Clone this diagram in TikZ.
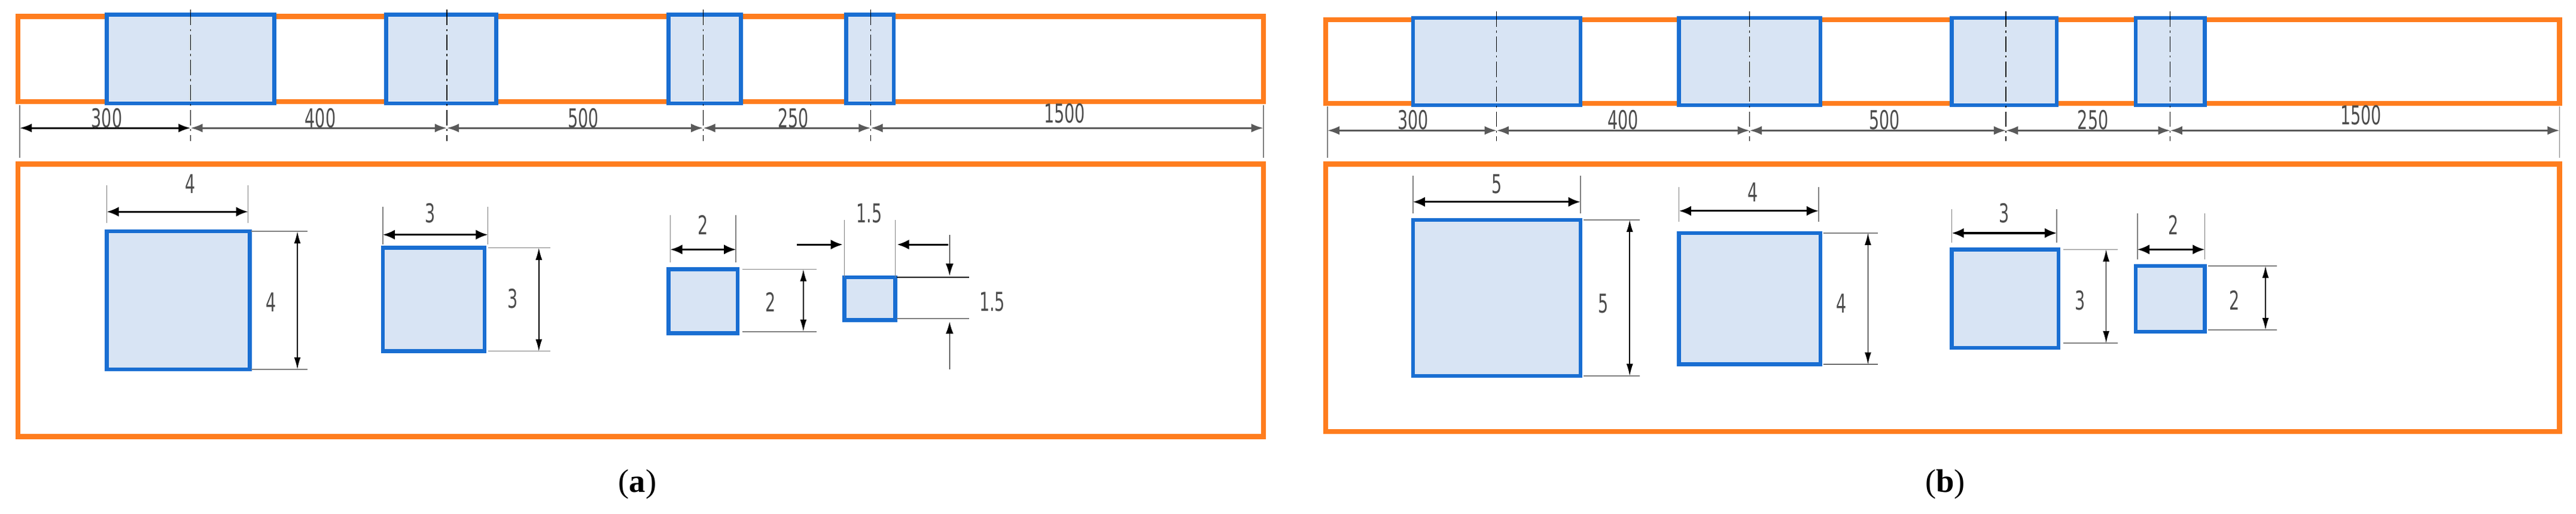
\documentclass[tikz,border=0pt]{standalone}
\usepackage{fontspec}
\setmainfont{Liberation Serif}
\setsansfont{DejaVu Sans}
\usetikzlibrary{arrows.meta}
\definecolor{org}{RGB}{255,125,30}
\definecolor{blu}{RGB}{25,110,210}
\definecolor{fil}{RGB}{216,228,244}
\tikzset{
 orangebox/.style={draw=org,line width=2.6pt},
 bluebox/.style={draw=blu,fill=fil,line width=2pt},
 centerline/.style={black,line width=0.4pt,dash pattern=on 8pt off 2pt on 1pt off 2pt},
 extline/.style={gray,line width=0.5pt},
 dimline/.style={gray!70!black,line width=0.9pt,{Latex[length=2.2mm,width=1.6mm]}-{Latex[length=2.2mm,width=1.6mm]}},
 vdim/.style={black,line width=0.5pt,{Latex[length=2.2mm,width=1.2mm]}-{Latex[length=2.2mm,width=1.2mm]}},
 hdim/.style={black,line width=1pt,{Latex[length=2.2mm,width=1.8mm]}-{Latex[length=2.2mm,width=1.8mm]}},
 onearrow/.style={black,line width=0.5pt,-{Latex[length=2.2mm,width=1.4mm]}},
 onearrowh/.style={black,line width=1pt,-{Latex[length=2.2mm,width=1.8mm]}},
 dimlabel/.style={text=gray!60!black,font=\sffamily\fontsize{13.5}{13.5}\selectfont,xscale=0.62,inner sep=0pt},
 caption/.style={font=\fontsize{17}{19}\selectfont,inner sep=0pt}
}
\begin{document}
\begin{tikzpicture}[x=0.03cm,y=-0.03cm]
\useasboundingbox (0,0) rectangle (1568,313);
% ---------- panel (a) ----------
\draw[orangebox] (11,10) rectangle (769,62);
\foreach \a/\b in {65/167,235/302,407/451,515/544}
  \draw[bluebox] (\a,9) rectangle (\b,63);
\foreach \c in {116,272,428,530}
  \draw[centerline] (\c,6) -- (\c,86);
\draw[extline] (12,64) -- (12,96);
\draw[extline] (769,64) -- (769,96);
\coordinate (a0) at (12,78);
\coordinate (a1) at (116,78);
\coordinate (a2) at (272,78);
\coordinate (a3) at (428,78);
\coordinate (a4) at (530,78);
\coordinate (a5) at (769,78);
\draw[dimline,black] (a0) -- (a1);
\draw[dimline] (a1) -- (a2);
\draw[dimline] (a2) -- (a3);
\draw[dimline] (a3) -- (a4);
\draw[dimline] (a4) -- (a5);
\node[dimlabel] (la1) at (65,72) {300};
\node[dimlabel] (la2) at (195,72) {400};
\node[dimlabel] (la3) at (355,72) {500};
\node[dimlabel] (la4) at (483,72) {250};
\node[dimlabel] (la5) at (648,69) {1500};
\draw[orangebox] (11,100) rectangle (769,266);
% square 1
\draw[bluebox] (65,141) rectangle (152,225);
\draw[extline] (65,113) -- (65,136);
\draw[extline] (151,113) -- (151,136);
\draw[hdim] (65,129) -- (151,129);
\node[dimlabel] at (116,112) {4};
\draw[extline] (153,141) -- (187,141);
\draw[extline] (153,225) -- (187,225);
\draw[vdim] (181,141) -- (181,225);
\node[dimlabel] at (165,184) {4};
% square 2
\draw[bluebox] (233,151) rectangle (295,214);
\draw[extline] (233,126) -- (233,149);
\draw[extline] (297,126) -- (297,149);
\draw[hdim] (233,143) -- (297,143);
\node[dimlabel] at (262,130) {3};
\draw[extline] (297,151) -- (335,151);
\draw[extline] (297,214) -- (335,214);
\draw[vdim] (328,151) -- (328,214);
\node[dimlabel] at (312,182) {3};
% square 3
\draw[bluebox] (407,164) rectangle (449,203);
\draw[extline] (408,131) -- (408,160);
\draw[extline] (448,131) -- (448,160);
\draw[hdim] (408,152) -- (448,152);
\node[dimlabel] at (428,137) {2};
\draw[extline] (452,164) -- (497,164);
\draw[extline] (452,202) -- (497,202);
\draw[vdim] (489,164) -- (489,202);
\node[dimlabel] at (469,184) {2};
% square 4
\draw[bluebox] (514,169) rectangle (545,195);
\draw[extline] (514,134) -- (514,169);
\draw[extline] (545,134) -- (545,169);
\draw[onearrowh] (485,149) -- (513,149);
\draw[onearrowh] (577,149) -- (546,149);
\node[dimlabel] at (529,130) {1.5};
\draw[extline,black] (546,169) -- (590,169);
\draw[extline] (546,194) -- (590,194);
\draw[onearrow] (578,143) -- (578,168);
\draw[onearrow] (578,225) -- (578,196);
\node[dimlabel] at (604,184) {1.5};
\node[caption] (capa) at (388,295) {(\textbf{a})};
% ---------- panel (b) ----------
\draw[orangebox] (807,12) rectangle (1558,63);
\foreach \a/\b in {860/962,1022/1108,1188/1252,1300/1342}
  \draw[bluebox] (\a,11) rectangle (\b,64);
\foreach \c in {911,1065,1221,1321}
  \draw[centerline] (\c,7) -- (\c,86);
\draw[extline] (808,65) -- (808,96);
\draw[extline] (1558,65) -- (1558,96);
\coordinate (b0) at (808,79.5);
\coordinate (b1) at (911,79.5);
\coordinate (b2) at (1065,79.5);
\coordinate (b3) at (1221,79.5);
\coordinate (b4) at (1321,79.5);
\coordinate (b5) at (1558,79.5);
\draw[dimline] (b0) -- (b1);
\draw[dimline] (b1) -- (b2);
\draw[dimline] (b2) -- (b3);
\draw[dimline] (b3) -- (b4);
\draw[dimline] (b4) -- (b5);
\node[dimlabel] (lb1) at (860,73) {300};
\node[dimlabel] (lb2) at (988,73) {400};
\node[dimlabel] (lb3) at (1147,73) {500};
\node[dimlabel] (lb4) at (1274,73) {250};
\node[dimlabel] (lb5) at (1437,70) {1500};
\draw[orangebox] (807,100) rectangle (1558,263);
% square 1
\draw[bluebox] (860,134) rectangle (962,229);
\draw[extline] (860,107) -- (860,130);
\draw[extline] (962,107) -- (962,130);
\draw[hdim] (860,123) -- (962,123);
\node[dimlabel] at (911,112) {5};
\draw[extline] (964,134) -- (998,134);
\draw[extline] (964,229) -- (998,229);
\draw[vdim] (992,134) -- (992,229);
\node[dimlabel] at (976,185) {5};
% square 2
\draw[bluebox] (1022,142) rectangle (1108,222);
\draw[extline] (1022,114) -- (1022,135);
\draw[extline] (1107,114) -- (1107,135);
\draw[hdim] (1022,128.5) -- (1107,128.5);
\node[dimlabel] at (1067,117) {4};
\draw[extline] (1110,142) -- (1143,142);
\draw[extline,black] (1110,222) -- (1143,222);
\draw[vdim] (1137,142) -- (1137,222);
\node[dimlabel] at (1121,185) {4};
% square 3
\draw[bluebox] (1188,152) rectangle (1253,212);
\draw[extline] (1188,127.5) -- (1188,148);
\draw[extline] (1252,127.5) -- (1252,148);
\draw[hdim] (1188,142) -- (1252,142);
\node[dimlabel] at (1220,130) {3};
\draw[extline] (1256,152) -- (1289,152);
\draw[extline] (1256,209) -- (1289,209);
\draw[vdim] (1282,152) -- (1282,209);
\node[dimlabel] at (1266,183) {3};
% square 4
\draw[bluebox] (1300,162) rectangle (1342,202);
\draw[extline] (1301,130) -- (1301,158);
\draw[extline] (1342,130) -- (1342,158);
\draw[hdim] (1301,152) -- (1342,152);
\node[dimlabel] at (1323,137) {2};
\draw[extline] (1344,162) -- (1386,162);
\draw[extline] (1344,201) -- (1386,201);
\draw[vdim] (1379,162) -- (1379,201);
\node[dimlabel] at (1360,183) {2};
\node[caption] (capb) at (1184,295) {(\textbf{b})};
\end{tikzpicture}
\end{document}
